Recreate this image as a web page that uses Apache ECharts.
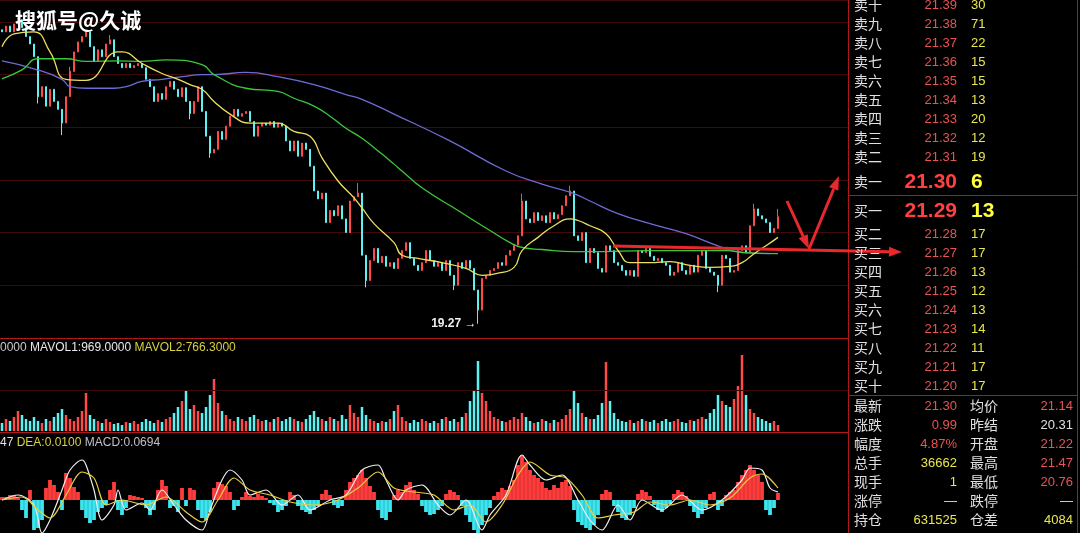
<!DOCTYPE html>
<html><head><meta charset="utf-8">
<script src="https://cdn.jsdelivr.net/npm/echarts@6/dist/echarts.min.js"></script>
<style>html,body{margin:0;padding:0;background:#000;overflow:hidden}#c{width:1080px;height:533px}</style>
</head><body><div id="c"></div>
<script>
// ---------- data ----------
const categories = Array.from({length: 212}, (_, i) => String(i + 1));
const firstOpen = 24.85;
const closes = [
 24.81,24.92,24.81,24.96,25.04,24.89,24.72,24.58,24.34,23.58,
 23.77,23.40,23.72,23.49,23.34,23.08,23.58,24.06,24.43,24.62,
 24.72,24.81,24.53,24.25,24.47,24.34,24.58,24.66,24.34,24.21,
 24.13,24.21,24.13,24.17,24.21,24.13,23.91,23.77,23.49,23.64,
 23.53,23.77,23.87,23.72,23.58,23.75,23.49,23.26,23.49,23.77,
 23.30,22.83,22.51,22.58,22.92,22.77,23.02,23.21,23.34,23.21,
 23.26,23.30,23.11,22.83,23.02,23.08,23.04,23.11,23.00,23.08,
 23.02,22.74,22.55,22.74,22.45,22.70,22.58,22.26,21.79,21.64,
 21.75,21.19,21.42,21.32,21.51,21.26,21.00,21.60,21.68,21.75,
 20.57,20.09,20.47,20.70,20.43,20.55,20.36,20.43,20.32,20.51,
 20.66,20.81,20.51,20.38,20.28,20.43,20.66,20.47,20.36,20.43,
 20.28,20.47,20.19,20.00,20.43,20.32,20.47,20.32,19.91,19.53,
 20.13,20.19,20.28,20.32,20.43,20.38,20.57,20.66,20.77,20.94,
 21.60,21.26,21.19,21.38,21.23,21.32,21.19,21.38,21.26,21.34,
 21.51,21.70,21.79,20.94,20.85,21.00,20.43,20.70,20.62,20.32,
 20.25,20.75,20.66,20.43,20.38,20.28,20.19,20.28,20.17,20.66,
 20.62,20.70,20.55,20.47,20.51,20.43,20.38,20.19,20.25,20.43,
 20.28,20.21,20.38,20.25,20.57,20.66,20.32,20.25,20.19,20.00,
 20.57,20.51,20.25,20.28,20.66,20.75,20.62,21.13,21.45,21.32,
 21.26,21.19,21.00,21.08,21.30
];
const wickHigh = {4:25.09, 17:24.15, 27:24.75, 89:21.94, 130:21.74, 142:21.89, 188:21.55, 194:21.45};
const wickLow = {9:23.45, 15:22.85, 47:23.15, 52:22.42, 91:19.96, 113:19.91, 119:19.27, 179:19.87};
const volumes = [
 800,1200,1000,1400, 2000,1600,1200,1000, 1400,1000,800,1200, 1000,1400,1800,2200,
 1600,1200,1000,1400, 2000,3800,1600,1200, 1000,800,1200,900, 700,800,600,900,
 800,1000,700,900, 1200,1000,800,1100, 900,1200,1400,1800, 2400,3000,4000,2200,
 2600,2000,1800,2400, 3600,5200,2800,2000, 1600,1200,1000,1400, 1200,1000,1400,1600,
 1200,1000,1100,900, 1200,1400,1000,1200, 1400,1200,1000,900, 1200,1600,2000,1400,
 1200,1000,1400,1200, 1000,1600,1200,2600, 1800,1400,2400,1600, 1200,1000,800,1000,
 900,1200,2000,2600, 1400,1000,800,1100, 900,1200,1000,800, 1000,800,1200,1400,
 1000,1200,900,1400, 1800,3000,4000,7000, 3800,3000,2000,1400, 1200,1000,900,1100,
 1400,1200,1800,1400, 1000,800,900,1200, 1000,800,1100,900, 1200,1600,2200,4000,
 2800,1800,1400,1200, 1200,1600,2800,6900, 3000,1800,1200,1000, 900,1100,800,1000,
 1200,1000,900,1100, 800,1000,1200,900, 1000,1200,900,800, 1100,1000,1200,1400,
 1200,1800,2200,3600, 3000,2600,2400,3200, 4500,7600,3600,2200, 1800,1400,1200,1000,
 800,1000,600
];
const maYellow = [[0,24.53],[3,24.77],[8,24.81],[12,24.43],[16,23.91],[21,23.89],[29,24.43],[30,24.43],[35,24.21],[40,24.02],[44,23.91],[47,23.81],[50,23.72],[53,23.49],[57,23.25],[62,23.08],[69,23.08],[73,22.92],[77,22.83],[80,22.42],[84,21.98],[88,21.66],[90,21.47],[93,21.17],[98,20.81],[100,20.57],[104,20.51],[110,20.43],[116,20.32],[120,20.19],[124,20.23],[128,20.34],[130,20.66],[134,20.91],[138,21.13],[142,21.26],[144,21.23],[147,21.13],[151,20.98],[154,20.66],[157,20.43],[162,20.43],[167,20.45],[172,20.38],[177,20.34],[182,20.36],[185,20.43],[188,20.60],[191,20.75],[194,20.91]];
const maGreen = [[0,23.92],[5,24.09],[9,24.30],[16,24.30],[21,24.25],[29,24.26],[35,24.25],[41,24.28],[50,24.19],[53,24.00],[61,23.74],[69,23.68],[73,23.55],[78,23.40],[82,23.21],[86,22.98],[90,22.79],[95,22.49],[98,22.30],[100,22.17],[105,21.85],[114,21.42],[122,21.04],[127,20.81],[130,20.72],[135,20.68],[143,20.64],[147,20.64],[162,20.66],[173,20.66],[181,20.66],[186,20.62],[194,20.60]];
const maBlue = [[0,24.26],[8,24.11],[15,23.91],[17,23.77],[21,23.74],[28,23.74],[31,23.77],[35,23.87],[40,23.91],[45,23.96],[50,24.00],[53,24.00],[61,24.04],[69,23.96],[78,23.81],[86,23.62],[90,23.53],[98,23.25],[112,22.74],[126,22.17],[135,21.92],[143,21.74],[147,21.60],[154,21.36],[162,21.17],[171,20.98],[179,20.75],[185,20.62],[192,20.60]];
const macdHist = [
 0.03,0.03,0.05,0.05,0.02,-0.10,-0.18,0.10,-0.30,-0.28,
 -0.20,0.12,0.20,0.15,0.08,-0.10,0.27,0.22,0.13,0.08,
 -0.10,-0.18,-0.23,-0.20,-0.12,-0.08,-0.05,0.10,0.18,-0.10,
 -0.15,-0.08,0.05,0.04,0.03,0.02,-0.08,-0.15,-0.10,0.10,
 0.20,0.14,-0.08,-0.06,-0.12,0.12,-0.06,0.12,0.10,-0.10,
 -0.18,-0.20,-0.12,0.12,0.18,0.16,0.14,0.08,-0.10,-0.06,
 0.03,0.08,0.04,0.03,0.06,0.04,0.02,-0.03,-0.05,-0.12,
 -0.10,-0.06,0.08,0.05,-0.06,-0.10,-0.12,-0.14,-0.10,-0.06,
 0.06,0.10,0.05,-0.05,-0.08,-0.06,0.10,0.18,0.22,0.25,
 0.30,0.22,0.14,0.08,-0.10,-0.18,-0.20,-0.12,0.05,0.10,
 0.08,0.15,0.18,0.10,0.06,-0.06,-0.12,-0.15,-0.14,-0.10,
 -0.06,0.06,0.10,0.08,0.05,-0.06,-0.15,-0.22,-0.30,-0.33,
 -0.25,-0.15,-0.08,0.04,0.08,0.12,0.10,0.14,0.20,0.35,
 0.45,0.38,0.30,0.25,0.22,0.18,0.12,0.10,0.15,0.12,
 0.18,0.20,0.14,-0.10,-0.22,-0.25,-0.28,-0.30,-0.25,-0.15,
 0.06,0.10,0.08,-0.06,-0.12,-0.18,-0.20,-0.15,-0.08,0.06,
 0.10,0.08,0.04,-0.05,-0.10,-0.12,-0.08,-0.04,0.06,0.10,
 0.08,0.04,-0.06,-0.12,-0.18,-0.14,-0.08,0.06,0.08,-0.10,
 -0.06,0.05,0.08,0.10,0.18,0.25,0.30,0.35,0.30,0.25,
 0.18,-0.10,-0.15,-0.08,0.07
];
const dif = [[0,0.00],[4,0.05],[8,-0.05],[10,-0.33],[12,-0.20],[15,0.10],[17,0.30],[20,0.40],[21,0.35],[23,0.10],[25,-0.20],[28,-0.05],[29,0.10],[31,-0.10],[35,-0.03],[37,-0.10],[40,0.10],[43,-0.05],[46,-0.20],[50,-0.30],[52,-0.10],[55,0.20],[57,0.30],[60,0.20],[62,0.05],[66,0.10],[70,-0.05],[74,0.05],[77,-0.10],[82,0.00],[86,0.05],[90,0.30],[94,0.35],[96,0.20],[99,0.00],[101,0.10],[105,0.15],[109,-0.05],[112,-0.15],[116,0.00],[120,-0.30],[122,-0.15],[126,0.05],[130,0.45],[132,0.35],[136,0.20],[140,0.25],[144,0.00],[147,-0.20],[150,-0.30],[154,-0.05],[157,-0.20],[160,0.00],[165,-0.10],[170,0.05],[175,-0.10],[180,0.00],[185,0.20],[187,0.32],[190,0.30],[192,0.12],[194,0.08]];
const dea = [[0,0.00],[5,0.03],[9,-0.10],[12,-0.18],[16,0.05],[20,0.28],[23,0.22],[26,-0.05],[30,0.00],[36,-0.05],[41,0.03],[46,-0.12],[50,-0.22],[54,0.00],[58,0.22],[62,0.10],[67,0.05],[72,-0.02],[78,-0.05],[84,0.00],[89,0.12],[94,0.28],[98,0.12],[103,0.08],[108,0.05],[113,-0.10],[117,-0.05],[121,-0.22],[125,-0.05],[129,0.25],[132,0.38],[137,0.25],[141,0.22],[145,0.05],[149,-0.18],[153,-0.15],[158,-0.12],[162,-0.02],[167,-0.05],[172,0.00],[177,-0.05],[182,0.02],[187,0.22],[190,0.26],[194,0.12]];
const lowIndex = 119, lowValue = 19.27;
const askLabels = ['卖十','卖九','卖八','卖七','卖六','卖五','卖四','卖三','卖二','卖一'];
const askPrices = ['21.39','21.38','21.37','21.36','21.35','21.34','21.33','21.32','21.31','21.30'];
const askVols = ['30','71','22','15','15','13','20','12','19','6'];
const bidLabels = ['买一','买二','买三','买四','买五','买六','买七','买八','买九','买十'];
const bidPrices = ['21.29','21.28','21.27','21.26','21.25','21.24','21.23','21.22','21.21','21.20'];
const bidVols = ['13','17','17','13','12','13','14','11','17','17'];
const statLabelsL = ['最新','涨跌','幅度','总手','现手','涨停','持仓'];
const statValuesL = ['21.30','0.99','4.87%','36662','1','—','631525'];
const statLabelsR = ['均价','昨结','开盘','最高','最低','跌停','仓差'];
const statValuesR = ['21.14','20.31','21.22','21.47','20.76','—','4084'];
const watermark = '搜狐号@久诚';

// ---------- styles ----------
const UP = '#ff4a4a', DOWN = '#5cf2f2';
const RED = '#e85454', YEL = '#e8e84c', WHITE = '#e0e0e0';
const BORDER = '#b01818', GRIDC = '#3e0a0a';
const CJK = '"Noto Sans CJK SC"', NUM = '"Liberation Sans", Arial';

const candleData = closes.map((c, i) => {
  const o = i === 0 ? firstOpen : closes[i - 1];
  const lo = wickLow[i] !== undefined ? wickLow[i] : Math.min(o, c);
  const hi = wickHigh[i] !== undefined ? wickHigh[i] : Math.max(o, c);
  return [o, c, lo, hi];
});
const volData = volumes.map((v, i) => ({
  value: v,
  itemStyle: {color: candleData[i][1] >= candleData[i][0] ? UP : DOWN}
}));
const histData = macdHist.map(v => ({value: v, itemStyle: {color: v >= 0 ? '#ff3c3c' : '#3ce6f0'}}));

// ---------- graphics ----------
const g = [];
function txt(x, y, text, fill, font, align) {
  g.push({type: 'text', x: x, y: y, silent: true, z: 100,
    style: {text: text, fill: fill, font: font, textAlign: align || 'left', textVerticalAlign: 'middle'}});
}
function ln(x1, y1, x2, y2, stroke, w) {
  g.push({type: 'line', silent: true, z: 90, shape: {x1, y1, x2, y2}, style: {stroke, lineWidth: w || 1}});
}
function arrow(x1, y1, x2, y2, color, w, hl, hw) {
  const dx = x2 - x1, dy = y2 - y1, L = Math.hypot(dx, dy), ux = dx / L, uy = dy / L;
  const bx = x2 - ux * hl, by = y2 - uy * hl;
  ln(x1, y1, bx, by, color, w);
  g.push({type: 'polygon', silent: true, z: 95, shape: {points: [[x2, y2], [bx - uy * hw, by + ux * hw], [bx + uy * hw, by - ux * hw]]}, style: {fill: color}});
}
// panel borders
ln(848.5, 0, 848.5, 533, BORDER, 1);
ln(1077.5, 0, 1077.5, 533, BORDER, 1);
ln(0, 338.5, 848, 338.5, BORDER, 1);
ln(0, 432.5, 848, 432.5, BORDER, 1);
ln(848, 195.5, 1078, 195.5, BORDER, 1);
ln(848, 395.5, 1078, 395.5, BORDER, 1);
// order book
for (let k = 0; k < 9; k++) {
  const y = 5 + 19 * k;
  txt(854, y, askLabels[k], WHITE, '14px ' + CJK);
  txt(957, y, askPrices[k], RED, '13px ' + NUM, 'right');
  txt(971, y, askVols[k], YEL, '13px ' + NUM);
}
txt(854, 182, askLabels[9], WHITE, '14px ' + CJK);
txt(957, 182, askPrices[9], '#ff4040', 'bold 21px ' + NUM, 'right');
txt(971, 182, askVols[9], '#ffff3c', 'bold 21px ' + NUM);
txt(854, 211, bidLabels[0], WHITE, '14px ' + CJK);
txt(957, 211, bidPrices[0], '#ff4040', 'bold 21px ' + NUM, 'right');
txt(971, 211, bidVols[0], '#ffff3c', 'bold 21px ' + NUM);
for (let k = 1; k < 10; k++) {
  const y = 234 + 19 * (k - 1);
  txt(854, y, bidLabels[k], WHITE, '14px ' + CJK);
  txt(957, y, bidPrices[k], RED, '13px ' + NUM, 'right');
  txt(971, y, bidVols[k], YEL, '13px ' + NUM);
}
const colL = [RED, RED, RED, YEL, YEL, WHITE, YEL];
const colR = [RED, WHITE, RED, RED, RED, WHITE, YEL];
for (let k = 0; k < 7; k++) {
  const y = 406 + 19 * k;
  txt(854, y, statLabelsL[k], WHITE, '14px ' + CJK);
  txt(957, y, statValuesL[k], colL[k], '13px ' + NUM, 'right');
  txt(970, y, statLabelsR[k], WHITE, '14px ' + CJK);
  txt(1073, y, statValuesR[k], colR[k], '13px ' + NUM, 'right');
}
// panel captions
g.push({type: 'text', x: 0, y: 348, silent: true, z: 100, style: {
  text: '{a|0000} {b|MAVOL1:969.0000} {c|MAVOL2:766.3000}', textVerticalAlign: 'middle',
  rich: {a: {fill: '#c8c8c8', font: '12px ' + NUM}, b: {fill: '#e8e8e8', font: '12px ' + NUM}, c: {fill: '#d8d040', font: '12px ' + NUM}}}});
g.push({type: 'text', x: 0, y: 443, silent: true, z: 100, style: {
  text: '{a|47} {b|DEA:0.0100} {c|MACD:0.0694}', textVerticalAlign: 'middle',
  rich: {a: {fill: '#e0e0e0', font: '12px ' + NUM}, b: {fill: '#d8d040', font: '12px ' + NUM}, c: {fill: '#c0c0c0', font: '12px ' + NUM}}}});
// watermark
g.push({type: 'text', x: 15, y: 20, silent: true, z: 110, style: {text: watermark, fill: '#ffffff', font: 'bold 21px ' + CJK, textVerticalAlign: 'middle', shadowColor: 'rgba(0,0,0,0.8)', shadowBlur: 3}});
// red hand-drawn annotations
arrow(613, 246, 902, 252, '#e8282a', 3, 13, 5);
arrow(787, 201, 809, 249, '#e8282a', 3, 14, 5);
arrow(809, 249, 839, 176, '#e8282a', 3, 14, 5);

// ---------- chart ----------
const chart = echarts.init(document.getElementById('c'));
const hiddenX = i => ({type: 'category', gridIndex: i, data: categories, boundaryGap: true, show: false});
chart.setOption({
  backgroundColor: '#000',
  animation: false,
  grid: [
    {left: 0, top: -2, width: 848, height: 340},
    {left: 0, top: 338, width: 848, height: 93},
    {left: 0, top: 433, width: 848, height: 100}
  ],
  xAxis: [hiddenX(0), hiddenX(1), hiddenX(2)],
  yAxis: [
    {type: 'value', gridIndex: 0, min: 19, max: 25.415, interval: 1, axisLabel: {show: false}, axisLine: {show: false}, axisTick: {show: false}, splitLine: {show: true, lineStyle: {color: GRIDC, width: 1}}},
    {type: 'value', gridIndex: 1, min: 0, max: 9300, axisLabel: {show: false}, axisLine: {show: false}, axisTick: {show: false}, splitLine: {show: false}},
    {type: 'value', gridIndex: 2, min: -0.33, max: 0.67, axisLabel: {show: false}, axisLine: {show: false}, axisTick: {show: false}, splitLine: {show: false}}
  ],
  series: [
    {type: 'candlestick', xAxisIndex: 0, yAxisIndex: 0, data: candleData, barMaxWidth: 3,
     itemStyle: {color: UP, color0: DOWN, borderColor: UP, borderColor0: DOWN, borderWidth: 1},
     markPoint: {symbol: 'circle', symbolSize: 1, itemStyle: {color: 'rgba(0,0,0,0)'},
       label: {show: true, position: 'left', distance: 1, formatter: '19.27 →', color: '#f0f0f0', fontSize: 12, fontWeight: 'bold', fontFamily: 'Liberation Sans'},
       data: [{coord: [lowIndex, lowValue]}]}},
    {type: 'line', xAxisIndex: 0, yAxisIndex: 0, data: maBlue, smooth: true, showSymbol: false, lineStyle: {color: '#6c6cd6', width: 1.3}, z: 3},
    {type: 'line', xAxisIndex: 0, yAxisIndex: 0, data: maGreen, smooth: true, showSymbol: false, lineStyle: {color: '#3cc83c', width: 1.3}, z: 3},
    {type: 'line', xAxisIndex: 0, yAxisIndex: 0, data: maYellow, smooth: true, showSymbol: false, lineStyle: {color: '#ece060', width: 1.3}, z: 3},
    {type: 'bar', xAxisIndex: 1, yAxisIndex: 1, data: volData, barWidth: 2.5,
     markLine: {silent: true, symbol: 'none', label: {show: false}, lineStyle: {color: GRIDC, type: 'solid', width: 1}, data: [{yAxis: 4100}]}},
    {type: 'bar', xAxisIndex: 2, yAxisIndex: 2, data: histData, barCategoryGap: '5%'},
    {type: 'line', xAxisIndex: 2, yAxisIndex: 2, data: dif, smooth: 0.3, showSymbol: false, lineStyle: {color: '#eeeeee', width: 1.2}, z: 4},
    {type: 'line', xAxisIndex: 2, yAxisIndex: 2, data: dea, smooth: 0.3, showSymbol: false, lineStyle: {color: '#e8d040', width: 1.2}, z: 4}
  ],
  graphic: g
});
</script>
</body></html>
